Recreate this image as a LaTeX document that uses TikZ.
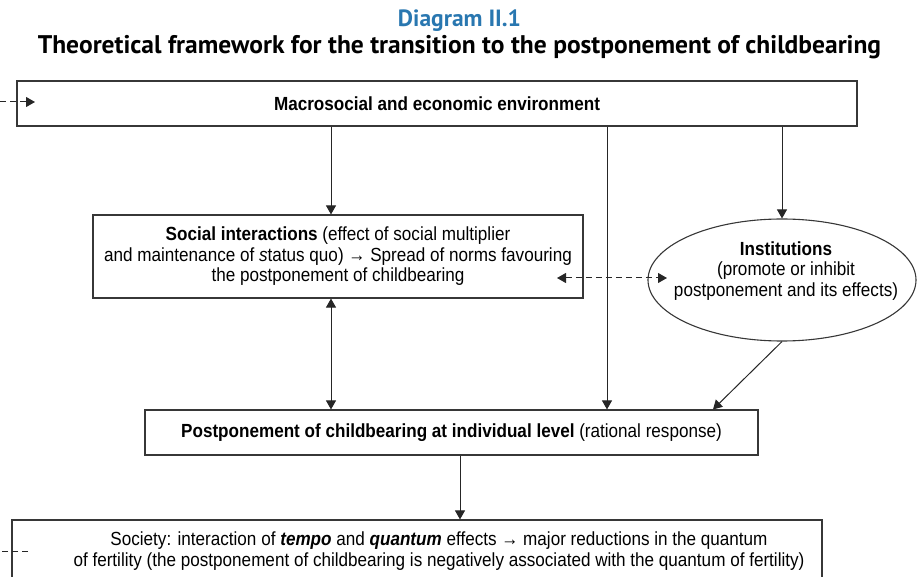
\documentclass[tikz,border=0pt]{standalone}
\usepackage{fontspec}
\setmainfont{Liberation Sans}[FakeStretch=0.9]
\newfontfamily\headfont{PT Sans}
\usetikzlibrary{arrows.meta,shapes.geometric}
\definecolor{headblue}{RGB}{41,119,176}
\definecolor{framegray}{RGB}{55,55,55}

\begin{document}
\begin{tikzpicture}[x=1pt,y=-1pt,
  bodyfont/.style={font=\fontsize{19}{20.5}\selectfont},
  box/.style={draw=framegray,line width=1.1pt,rectangle,inner sep=0pt,align=center,bodyfont},
  oval/.style={draw=framegray,line width=1.1pt,ellipse,inner sep=0pt},
  label/.style={align=center,inner sep=0pt,bodyfont},
  heading/.style={inner sep=0pt,font=\headfont\bfseries\fontsize{25.5}{28}\selectfont},
  link/.style={draw=black!85,line width=1pt,-{Triangle[width=10pt,length=9pt]}},
  twoway/.style={draw=black!85,line width=1pt,{Triangle[width=10pt,length=9pt]}-{Triangle[width=10pt,length=9pt]}},
  feedback/.style={draw=black!85,line width=1pt,dash pattern=on 6pt off 4pt},
]
\useasboundingbox (0,0) rectangle (919,577);
\clip (0,0) rectangle (919,577);

% headings
\node[heading,text=headblue,font=\headfont\bfseries\fontsize{23.5}{28}\selectfont] (num) at (459.5,21) {Diagram II.1};
\node[heading] (title) at (459.5,47) {Theoretical framework for the transition to the postponement of childbearing};

% boxes
\node[box,minimum width=840,minimum height=45] (macro) at (437,103.5)
  {\textbf{Macrosocial and economic environment}};
\node[box,minimum width=490,minimum height=83] (social) at (338,256.5)
  {\textbf{Social interactions} (effect of social multiplier\\
   and maintenance of \textit{s}tatus quo) → Spread of norms favouring\\
   the postponement of childbearing};
\node[oval,minimum width=268,minimum height=122] (inst) at (782,280) {};
\node[label] (insttext) at (786,271)
  {\textbf{Institutions}\\(promote or inhibit\\postponement and its effects)};
\node[box,minimum width=613,minimum height=45] (postp) at (451.5,432.5)
  {\textbf{Postponement of childbearing at individual level} (rational response)};
\node[box,minimum width=810,minimum height=64] (soc) at (417,552) {};
\node[label] (soctext) at (439,551)
  {Society: interaction of \textbf{\textit{tempo}} and \textbf{\textit{quantum}} effects → major reductions in the quantum\\
   of fertility (the postponement of childbearing is negatively associated with the quantum of fertility)};

% connector columns and free ends
\coordinate (xa) at (331,0);
\coordinate (xb) at (607,0);
\coordinate (xc) at (460,0);
\coordinate (xd) at (713,0);
\coordinate (dl) at (557,278);
\coordinate (dr) at (667,278);
\coordinate (fin) at (0,102);
\coordinate (fintip) at (35,102);
\coordinate (fout) at (28,551);
\coordinate (foutend) at (0,551);

% connectors
\draw[link] (macro.south -| xa) -- (social.north -| xa);
\draw[link] (macro.south -| xb) -- (postp.north -| xb);
\draw[link] (macro.south -| inst.north) -- (inst.north);
\draw[twoway] (social.south -| xa) -- (postp.north -| xa);
\draw[link] (inst.south) -- (postp.north -| xd);
\draw[link] (postp.south -| xc) -- (soc.north -| xc);
\draw[feedback,{Triangle[width=10pt,length=9pt]}-{Triangle[width=10pt,length=9pt]}] (dl) -- (dr);
\draw[feedback,-{Triangle[width=10pt,length=9pt]}] (fin) -- (fintip);
\draw[feedback] (fout) -- (foutend);
\end{tikzpicture}
\end{document}
